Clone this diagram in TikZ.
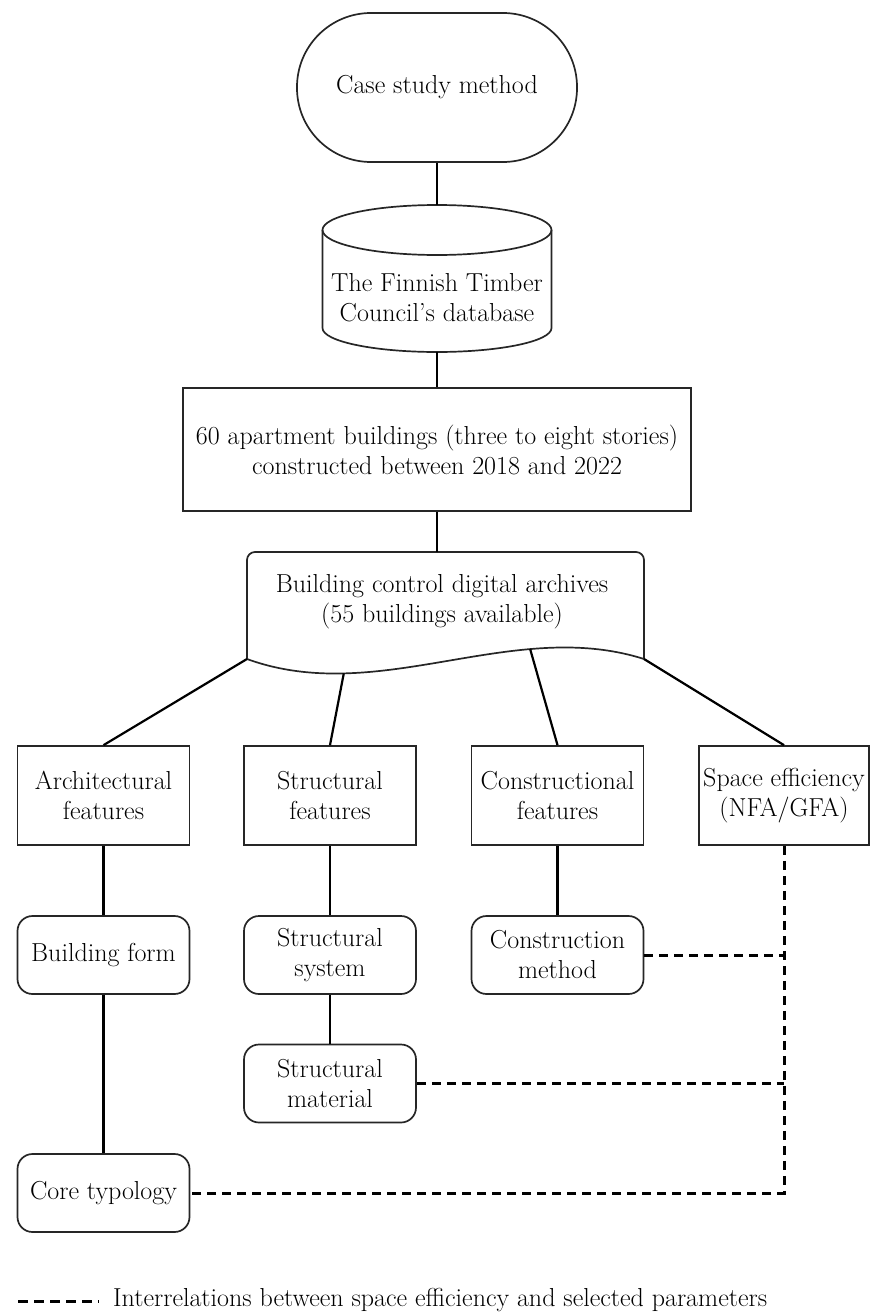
\documentclass[tikz,border=0pt]{standalone}
\usepackage{fontspec}
\usetikzlibrary{calc}
\begin{document}
\begin{tikzpicture}[x=1pt,y=-1pt,
  every node/.style={font=\fontsize{26}{30}\selectfont, align=center, inner sep=2pt},
  shapeline/.style={draw=black!85, line width=1.7pt},
  conn/.style={line width=2.2pt, black},
  dashconn/.style={line width=3pt, black, dash pattern=on 9pt off 6pt},
  box/.style={shapeline, rectangle, minimum width=172pt, minimum height=99pt},
  rbox/.style={shapeline, rectangle, rounded corners=15pt, minimum width=172pt, minimum height=78pt},
]
\useasboundingbox (0,0) rectangle (870,1316);

% terminator
\node[shapeline, rounded corners=74pt, minimum width=280pt, minimum height=149pt] (start) at (437,87.5) {Case study method};

% database cylinder
\node[minimum width=229pt, minimum height=147pt, inner sep=0pt] (db) at (437,278.5) {};
\draw[shapeline] (437,230) ellipse [x radius=114.5, y radius=25];
\draw[shapeline] (322.5,230) -- (322.5,328) arc[start angle=180, end angle=0, x radius=114.5, y radius=24] -- (551.5,230);
\node (dbT) at (437,298) {The Finnish Timber\\Council's database};

% process box
\node[shapeline, rectangle, minimum width=508pt, minimum height=123pt] (apt) at (437,449.5) {60 apartment buildings (three to eight stories)\\constructed between 2018 and 2022};

% document shape
\node[minimum width=397pt, minimum height=121pt, inner sep=0pt] (doc) at (445.5,612.5) {};
\draw[shapeline] (247,659) -- (247,560) arc[start angle=180, end angle=270, radius=8] -- (636,552) arc[start angle=270, end angle=360, radius=8] -- (644,659) .. controls (512,617) and (379,707) .. (247,659) coordinate[pos=0.287] (w3) coordinate[pos=0.756] (w2) -- cycle;
\coordinate (w1) at (247,659);
\coordinate (w4) at (644,659);
\node (docT) at (442,602) {Building control digital archives\\(55 buildings available)};

% feature boxes
\node[box] (arch) at (103.5,795.5) {Architectural\\features};
\node[box] (strf) at (330,795.5) {Structural\\features};
\node[box] (cons) at (557.5,795.5) {Constructional\\features};
\node[box, minimum width=170pt] (space) at (784,795.5) {Space efficiency\\(NFA/GFA)};

% parameter boxes
\node[rbox] (bform) at (103.5,955) {Building form};
\node[rbox] (ssys) at (330,955) {Structural\\system};
\node[rbox] (cmeth) at (557.5,955) {Construction\\method};
\node[rbox] (smat) at (330,1083.5) {Structural\\material};
\node[rbox] (core) at (103.5,1193) {Core typology};

% connectors
\draw[conn] (start.south) -- (db.north);
\draw[conn] (db.south) -- (apt.north);
\draw[conn] (apt.south) -- (apt.south |- doc.north);
\draw[conn] (w1) -- (arch.north);
\draw[conn] (w2) -- (strf.north);
\draw[conn] (w3) -- (cons.north);
\draw[conn] (w4) -- (space.north);
\draw[conn] (arch) -- (bform);
\draw[conn] (bform) -- (core);
\draw[conn] (strf) -- (ssys);
\draw[conn] (ssys) -- (smat);
\draw[conn] (cons) -- (cmeth);

% dashed interrelations
\draw[dashconn] (space.south) -- (space.south |- core.east) -- (core.east);
\draw[dashconn] (cmeth.east) -- (cmeth.east -| space.south);
\draw[dashconn] (smat.east) -- (smat.east -| space.south);

% legend
\coordinate (l1) at (18,1301);
\coordinate (l2) at (99,1301);
\draw[dashconn, dash pattern=on 10pt off 6pt] (l1) -- (l2);
\node[anchor=west, inner sep=0pt] (leg) at (113,1300) {Interrelations between space efficiency and selected parameters};
\end{tikzpicture}
\end{document}
